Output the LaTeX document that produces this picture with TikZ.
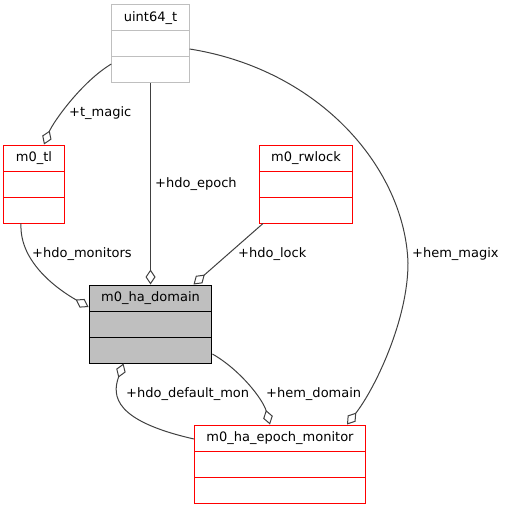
\documentclass[tikz,border=0pt]{standalone}
\usepackage{fontspec}
\setmainfont{DejaVu Sans}
\usepackage{tikz}
\usetikzlibrary{arrows.meta,shapes.multipart}
\definecolor{edge}{HTML}{404040}
\definecolor{extern}{HTML}{BFBFBF}
\definecolor{classred}{HTML}{FF0000}
\definecolor{focus}{HTML}{BFBFBF}
\tikzset{
  classbox/.style={rectangle split,rectangle split parts=3,draw=classred,
                   line width=1pt,inner xsep=12pt,inner ysep=6pt,
                   text height=10pt,text depth=3pt,
                   rectangle split empty part height=10pt,
                   rectangle split empty part depth=3pt,
                   font=\fontsize{13}{15}\selectfont},
  externbox/.style={classbox,draw=extern},
  focusbox/.style={classbox,draw=black,fill=focus},
  aggr/.style={{Diamond[open,length=15pt,width=10pt]}-,line width=1pt,draw=edge},
  lbl/.style={anchor=base west,inner sep=0pt,font=\fontsize{13}{15}\selectfont}
}

\begin{document}
\begin{tikzpicture}[x=1pt,y=-1pt]
  \useasboundingbox (0,0) rectangle (505,508);
  % classes
  \node[externbox] (uint) at (150.5,44) {uint64\_t \nodepart{two} \nodepart{three}};
  \node[classbox] (tl) at (34,184) {m0\_tl \nodepart{two} \nodepart{three}};
  \node[classbox] (rwlock) at (306,184) {m0\_rwlock \nodepart{two} \nodepart{three}};
  \node[focusbox] (domain) at (150.5,324) {m0\_ha\_domain \nodepart{two} \nodepart{three}};
  \node[classbox] (monitor) at (280,464) {m0\_ha\_epoch\_monitor \nodepart{two} \nodepart{three}};

  % members
  \draw[aggr] ([xshift=10pt]tl.north) .. controls +(9,-22) and +(-30,18) .. ([yshift=-20pt]uint.west);
  \node[lbl] (tmagic) at (69,117) {+t\_magic};

  \draw[aggr] (domain.north) -- (uint.south);
  \node[lbl] (hdoepoch) at (155,187) {+hdo\_epoch};

  \draw[aggr] ([xshift=67pt]monitor.north) .. controls +(28,-36) and +(0,57) .. (408,263)
    .. controls +(-3,-93) and +(132,21) .. ([yshift=-5pt]uint.east);
  \node[lbl] (hemmagix) at (412,257) {+hem\_magix};

  \draw[aggr] ([yshift=17pt]domain.west) .. controls +(-28,-16) and +(-2,40) .. ([xshift=-13pt]tl.south);
  \node[lbl] (hdomonitors) at (32,257) {+hdo\_monitors};

  \draw[aggr] ([xshift=43pt]domain.north) -- ([xshift=-43pt]rwlock.south);
  \node[lbl] (hdolock) at (238,257) {+hdo\_lock};

  \draw[aggr] ([xshift=-10pt]monitor.north) .. controls +(-7,-25) and +(28,16) .. ([yshift=-30pt]domain.east);
  \node[lbl] (hemdomain) at (266,397) {+hem\_domain};

  \draw[aggr] ([xshift=-27pt]domain.south) .. controls +(-12,33) and +(-79,-18) .. ([yshift=25pt]monitor.west);
  \node[lbl] (hdodefault) at (126,397) {+hdo\_default\_mon};
\end{tikzpicture}
\end{document}
